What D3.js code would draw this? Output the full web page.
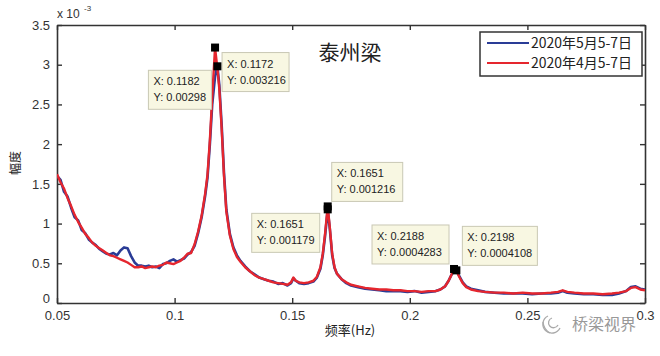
<!DOCTYPE html>
<html><head><meta charset="utf-8">
<script src="https://cdn.jsdelivr.net/npm/d3@7"></script>
<style>body{margin:0;background:#fff}svg{display:block}</style>
</head><body>
<svg id="c" width="660" height="356"></svg>
<script>
// frequency (Hz)
const freq = [0.050,0.0515,0.053,0.0545,0.056,0.0575,0.059,0.0605,0.062,0.0635,0.065,0.0665,0.068,0.0695,0.071,0.0725,0.074,0.0755,0.077,0.0785,0.080,0.0815,0.083,0.0845,0.086,0.0875,0.089,0.0905,0.092,0.0935,0.095,0.0965,0.098,0.0995,0.101,0.1025,0.104,0.1055,0.107,0.1085,0.110,0.1115,0.113,0.114,0.115,0.116,0.1172,0.1182,0.119,0.120,0.121,0.122,0.1235,0.125,0.1265,0.128,0.130,0.132,0.134,0.136,0.138,0.140,0.142,0.144,0.146,0.148,0.1495,0.1505,0.1515,0.153,0.155,0.157,0.159,0.1605,0.162,0.163,0.164,0.1651,0.166,0.167,0.168,0.169,0.171,0.173,0.175,0.178,0.181,0.184,0.187,0.190,0.193,0.196,0.199,0.202,0.205,0.208,0.211,0.213,0.215,0.2165,0.2178,0.2188,0.2198,0.221,0.2225,0.224,0.226,0.229,0.232,0.236,0.240,0.244,0.248,0.252,0.256,0.260,0.263,0.265,0.267,0.270,0.274,0.278,0.282,0.286,0.289,0.292,0.294,0.296,0.298,0.300];
// amplitude x 10^-3, 2020年4月5-7日 (red)
const apr = [1.62,1.52,1.44,1.32,1.22,1.11,1.02,0.95,0.87,0.82,0.76,0.72,0.69,0.66,0.63,0.60,0.59,0.57,0.55,0.53,0.51,0.48,0.45,0.45,0.46,0.44,0.45,0.46,0.45,0.47,0.48,0.51,0.50,0.49,0.51,0.53,0.57,0.62,0.63,0.74,0.90,1.10,1.38,1.62,2.05,2.60,3.216,2.95,2.70,2.20,1.60,1.15,0.85,0.68,0.58,0.52,0.45,0.40,0.35,0.32,0.30,0.28,0.26,0.25,0.24,0.23,0.26,0.32,0.28,0.26,0.25,0.26,0.28,0.33,0.45,0.62,0.88,1.216,0.95,0.62,0.45,0.37,0.30,0.26,0.23,0.21,0.19,0.18,0.17,0.17,0.16,0.16,0.15,0.15,0.14,0.15,0.15,0.17,0.21,0.28,0.36,0.4283,0.41,0.33,0.25,0.20,0.17,0.15,0.14,0.13,0.13,0.12,0.13,0.12,0.12,0.13,0.14,0.16,0.14,0.13,0.12,0.12,0.11,0.12,0.13,0.15,0.19,0.20,0.17,0.16];
// amplitude x 10^-3, 2020年5月5-7日 (blue)
const may = [1.60,1.55,1.40,1.34,1.20,1.08,1.04,0.92,0.88,0.80,0.76,0.73,0.68,0.65,0.62,0.61,0.63,0.60,0.66,0.70,0.69,0.59,0.51,0.47,0.47,0.46,0.47,0.45,0.46,0.44,0.49,0.50,0.53,0.55,0.52,0.54,0.56,0.61,0.64,0.72,0.88,1.08,1.35,1.58,2.00,2.50,2.85,2.98,2.75,2.25,1.64,1.18,0.87,0.70,0.60,0.53,0.46,0.40,0.36,0.32,0.30,0.28,0.27,0.24,0.25,0.22,0.25,0.31,0.28,0.25,0.24,0.25,0.27,0.32,0.43,0.60,0.85,1.179,0.93,0.60,0.44,0.37,0.30,0.25,0.22,0.20,0.18,0.17,0.16,0.15,0.15,0.15,0.14,0.15,0.13,0.14,0.15,0.17,0.21,0.28,0.36,0.40,0.4108,0.34,0.26,0.21,0.18,0.16,0.14,0.13,0.12,0.12,0.12,0.11,0.12,0.12,0.13,0.15,0.13,0.12,0.11,0.11,0.10,0.10,0.12,0.15,0.20,0.21,0.18,0.17];

const xTicks = [0.05,0.1,0.15,0.2,0.25,0.3];
const xTickLabels = ["0.05","0.1","0.15","0.2","0.25","0.3"];
const yTicks = [0,0.5,1,1.5,2,2.5,3,3.5];
const yTickLabels = ["0","0.5","1","1.5","2","2.5","3","3.5"];

const seriesNames = ["2020年5月5-7日","2020年4月5-7日"];
const seriesColors = ["#2a3c96","#e5262e"];

// data tips
const tipX = [0.1172,0.1182,0.1651,0.1651,0.2188,0.2198];
const tipY = [0.003216,0.00298,0.001216,0.001179,0.0004283,0.0004108];

const svg = d3.select("#c");
const L=57, R=645, T=25, B=303;
const x = d3.scaleLinear().domain([0.05,0.3]).range([L,R]);
const y = d3.scaleLinear().domain([0,3.5]).range([B,T]);
const axisColor="#333";
const font="Arial, 'Liberation Sans', sans-serif";

svg.append("defs").append("clipPath").attr("id","clip")
  .append("rect").attr("x",L).attr("y",T).attr("width",R-L).attr("height",B-T);

// axes
const gx = svg.append("g").attr("transform",`translate(0,${B})`)
  .call(d3.axisBottom(x).tickValues(xTicks).tickFormat((d,i)=>xTickLabels[i]).tickSizeInner(-5).tickSizeOuter(0).tickPadding(8));
const gxt = svg.append("g").attr("transform",`translate(0,${T})`)
  .call(d3.axisTop(x).tickValues(xTicks).tickFormat("").tickSizeInner(-5).tickSizeOuter(0));
const gy = svg.append("g").attr("transform",`translate(${L},0)`)
  .call(d3.axisLeft(y).tickValues(yTicks).tickFormat((d,i)=>yTickLabels[i]).tickSizeInner(-5).tickSizeOuter(0).tickPadding(7));
const gyr = svg.append("g").attr("transform",`translate(${R},0)`)
  .call(d3.axisRight(y).tickValues(yTicks).tickFormat("").tickSizeInner(-5).tickSizeOuter(0));
[gx,gxt,gy,gyr].forEach(g=>{
  g.select(".domain").attr("stroke",axisColor).attr("stroke-width",1.6);
  g.selectAll(".tick line").attr("stroke",axisColor).attr("stroke-width",1.4);
  g.selectAll("text").attr("fill","#333").style("font-family",font).style("font-size","13px");
});
// lift the "0" y label slightly so it sits just above "0.05"
gy.selectAll(".tick").filter(d=>d===0).select("text").attr("dy","-0.05em");

// exponent
svg.append("text").attr("x",L).attr("y",T-7).attr("fill","#333").style("font-family",font).style("font-size","12px").text("x 10");
svg.append("text").attr("x",L+27).attr("y",T-14).attr("fill","#333").style("font-family",font).style("font-size","8px").text("-3");

// lines
const line = d3.line().x((d,i)=>x(freq[i])).y(d=>y(d));
const plot = svg.append("g").attr("clip-path","url(#clip)");
plot.append("path").datum(may).attr("d",line).attr("fill","none").attr("stroke",seriesColors[0]).attr("stroke-width",2.6).attr("stroke-linejoin","round");
plot.append("path").datum(apr).attr("d",line).attr("fill","none").attr("stroke",seriesColors[1]).attr("stroke-width",2.4).attr("stroke-linejoin","round");

// title
svg.append("text").attr("x",350).attr("y",60).attr("text-anchor","middle").attr("fill","#222")
  .style("font-family","'Noto Sans CJK SC', sans-serif").style("font-size","21px").text("泰州梁");

// legend
const lg = svg.append("g");
lg.append("rect").attr("x",480).attr("y",32).attr("width",162).attr("height",44).attr("fill","#fff").attr("stroke","#333").attr("stroke-width",1.5);
seriesNames.forEach((n,i)=>{
  const yy = 43 + i*20;
  lg.append("line").attr("x1",487).attr("x2",529).attr("y1",yy).attr("y2",yy).attr("stroke",seriesColors[i]).attr("stroke-width",2);
  lg.append("text").attr("x",531).attr("y",yy+5).attr("fill","#222").style("font-family","'Noto Sans CJK SC', sans-serif")
    .style("font-size","14px").attr("textLength",101).attr("lengthAdjust","spacingAndGlyphs").text(n);
});

// axis labels
svg.append("text").attr("transform","translate(20,163) rotate(-90)").attr("text-anchor","middle").attr("fill","#222")
  .style("font-family","'Noto Sans CJK SC', sans-serif").style("font-size","12px").text("幅度");
svg.append("text").attr("x",350).attr("y",335).attr("text-anchor","middle").attr("fill","#222")
  .style("font-family","'Noto Sans CJK SC', sans-serif").style("font-size","13px").text("频率(Hz)");

// data tips: box offsets relative to marker
const tipBox = [
  {dx:7, dy:5, w:67, anchor:"tl"},
  {dx:-6, dy:4, w:63, anchor:"tr"},
  {dx:4, dy:-5, w:71, anchor:"bl"},
  {dx:-8, dy:4, w:68, anchor:"tr"},
  {dx:-5, dy:-5, w:77, anchor:"br"},
  {dx:6, dy:-5, w:75, anchor:"bl"}
];
const h=39;
tipX.forEach((tx,i)=>{
  const mx=x(tx), my=y(tipY[i]*1000), b=tipBox[i];
  let bx = b.anchor.includes("l") ? mx+b.dx : mx+b.dx-b.w;
  let by = b.anchor.includes("t") ? my+b.dy : my+b.dy-h;
  const g=svg.append("g");
  g.append("rect").attr("x",bx).attr("y",by).attr("width",b.w).attr("height",h).attr("fill","#f8f7e2").attr("stroke","#c9c8b4").attr("stroke-width",1);
  g.append("text").attr("x",bx+5).attr("y",by+15).attr("fill","#222").style("font-family",font).style("font-size","11px").text("X: "+tx);
  g.append("text").attr("x",bx+5).attr("y",by+31).attr("fill","#222").style("font-family",font).style("font-size","11px").text("Y: "+tipY[i]);
});
tipX.forEach((tx,i)=>{
  svg.append("rect").attr("x",x(tx)-4).attr("y",y(tipY[i]*1000)-4).attr("width",8).attr("height",8).attr("fill","#000");
});

// watermark
const wm = svg.append("g").attr("fill","none").attr("stroke","#aaa").attr("stroke-width",1.3);
wm.append("path").attr("d","M548,316 a9,9 0 1,0 12,12");
wm.append("path").attr("d","M552,318 a5,5 0 1,0 6,7");
wm.append("path").attr("d","M543,322 a14,14 0 0,0 7,11");
svg.append("text").attr("x",572).attr("y",330).attr("fill","#999").style("font-family","'Noto Sans CJK SC', sans-serif").style("font-size","16px").text("桥梁视界");
</script>
</body></html>
